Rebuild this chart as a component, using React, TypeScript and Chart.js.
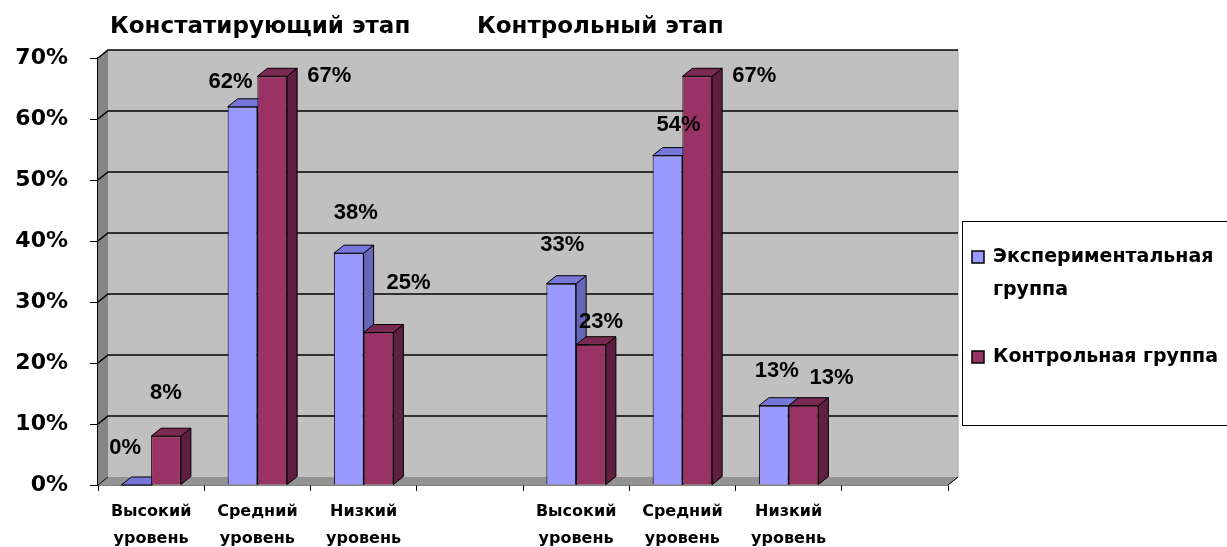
import React, { useEffect, useRef } from 'react';
import { Chart, registerables } from 'chart.js';

Chart.register(...registerables);

// ---------- data ----------
const categories: (string | string[])[] = [
  ['Высокий', 'уровень'],
  ['Средний', 'уровень'],
  ['Низкий', 'уровень'],
  '',
  ['Высокий', 'уровень'],
  ['Средний', 'уровень'],
  ['Низкий', 'уровень'],
  '',
];
const seriesNames = ['Экспериментальная группа', 'Контрольная группа'];
const experimental: (number | null)[] = [0, 62, 38, null, 33, 54, 13, null];
const control: (number | null)[] = [8, 67, 25, null, 23, 67, 13, null];
const yMin = 0;
const yMax = 70;
const yStep = 10;
const stageTitles = ['Констатирующий этап', 'Контрольный этап'];

// ---------- styles ----------
const FONT = "'DejaVu Sans', 'Open Sans', sans-serif";
const LABEL_FONT = "'Liberation Sans', Arial, sans-serif";
const DX = 10;
const DY = -8;
const seriesStyle = [
  { front: '#9999FF', top: '#7777D9', side: '#6666BB' },
  { front: '#993366', top: '#7A2952', side: '#5E1F40' },
];
// label offsets (px) relative to bar top centre
const labelOffsets = [
  [[-11, -37], [-12, -25], [7, -40], [0, 0], [1, -39], [11, -31], [3, -35], [0, 0]],
  [[0, -43], [57, 0], [30, -50], [0, 0], [10, -23], [57, 0], [28, -28], [0, 0]],
];

const wallsPlugin = {
  id: 'walls3d',
  beforeDatasetsDraw(chart: any) {
    const { ctx, chartArea } = chart;
    const { left: L, right: R, top: T, bottom: B } = chartArea;
    const ys = chart.scales.y;
    ctx.save();
    // back wall
    ctx.fillStyle = '#C0C0C0';
    ctx.fillRect(L + DX, T + DY, R - L, B - T);
    // left wall
    ctx.fillStyle = '#858585';
    ctx.beginPath();
    ctx.moveTo(L, T);
    ctx.lineTo(L + DX, T + DY);
    ctx.lineTo(L + DX, B + DY);
    ctx.lineTo(L, B);
    ctx.closePath();
    ctx.fill();
    // floor
    ctx.fillStyle = '#939393';
    ctx.beginPath();
    ctx.moveTo(L, B);
    ctx.lineTo(L + DX, B + DY);
    ctx.lineTo(R + DX, B + DY);
    ctx.lineTo(R, B);
    ctx.closePath();
    ctx.fill();
    // right wall edge
    ctx.strokeStyle = '#A8A8A8';
    ctx.lineWidth = 1;
    ctx.beginPath();
    ctx.moveTo(R + DX, T + DY);
    ctx.lineTo(R + DX, B + DY);
    ctx.stroke();
    // grid lines
    ctx.strokeStyle = '#000';
    ctx.lineWidth = 1.6;
    for (let v = yMin + yStep; v <= yMax; v += yStep) {
      const y = ys.getPixelForValue(v);
      ctx.beginPath();
      ctx.moveTo(L, y);
      ctx.lineTo(L + DX, y + DY);
      ctx.lineTo(R + DX, y + DY);
      ctx.stroke();
    }
    // floor diagonals
    ctx.lineWidth = 1;
    ctx.beginPath();
    ctx.moveTo(L, B);
    ctx.lineTo(L + DX, B + DY);
    ctx.moveTo(R, B);
    ctx.lineTo(R + DX, B + DY);
    ctx.stroke();

    // 3D tops and sides of bars (drawn behind fronts)
    chart.data.datasets.forEach((ds: any, di: number) => {
      const meta = chart.getDatasetMeta(di);
      const st = seriesStyle[di];
      meta.data.forEach((el: any, i: number) => {
        if (ds.data[i] === null || ds.data[i] === undefined) return;
        const w = el.width;
        const l = el.x - w / 2;
        const r = el.x + w / 2;
        const y = el.y;
        const b = el.base;
        ctx.lineWidth = 1;
        ctx.strokeStyle = '#000';
        // side
        ctx.fillStyle = st.side;
        ctx.beginPath();
        ctx.moveTo(r, y);
        ctx.lineTo(r + DX, y + DY);
        ctx.lineTo(r + DX, b + DY);
        ctx.lineTo(r, b);
        ctx.closePath();
        ctx.fill();
        ctx.stroke();
        // top
        ctx.fillStyle = st.top;
        ctx.beginPath();
        ctx.moveTo(l, y);
        ctx.lineTo(l + DX, y + DY);
        ctx.lineTo(r + DX, y + DY);
        ctx.lineTo(r, y);
        ctx.closePath();
        ctx.fill();
        ctx.stroke();
      });
    });
    ctx.restore();
  },
};

const overlayPlugin = {
  id: 'overlay',
  afterDatasetsDraw(chart: any) {
    const { ctx } = chart;
    ctx.save();
    ctx.fillStyle = '#000';
    ctx.font = `bold 22px ${LABEL_FONT}`;
    ctx.textAlign = 'center';
    ctx.textBaseline = 'middle';
    chart.data.datasets.forEach((ds: any, di: number) => {
      const meta = chart.getDatasetMeta(di);
      meta.data.forEach((el: any, i: number) => {
        const v = ds.data[i];
        if (v === null || v === undefined) return;
        const [ox, oy] = labelOffsets[di][i];
        ctx.fillText(`${v}%`, el.x + ox, el.y + oy);
      });
    });
    ctx.restore();
  },
  afterDraw(chart: any) {
    const { ctx, chartArea } = chart;
    ctx.save();
    // stage titles
    ctx.fillStyle = '#000';
    ctx.font = `bold 23px ${FONT}`;
    ctx.textAlign = 'left';
    ctx.textBaseline = 'middle';
    ctx.fillText(stageTitles[0], chartArea.left + 12, 27);
    ctx.fillText(stageTitles[1], chartArea.left + 379, 27);

    // legend
    const lx = chartArea.right + 14;
    const ly = 221;
    const lh = 204;
    ctx.fillStyle = '#fff';
    ctx.fillRect(lx, ly, 400, lh);
    ctx.strokeStyle = '#000';
    ctx.lineWidth = 1;
    ctx.strokeRect(lx + 0.5, ly + 0.5, 400, lh);
    ctx.font = `bold 19px ${FONT}`;
    const items = [
      { lines: ['Экспериментальная', 'группа'], y: ly + 36 },
      { lines: [seriesNames[1]], y: ly + 136 },
    ];
    items.forEach((it, k) => {
      ctx.fillStyle = seriesStyle[k].front;
      ctx.fillRect(lx + 10, it.y - 6, 12, 12);
      ctx.strokeStyle = '#000';
      ctx.lineWidth = 1.5;
      ctx.strokeRect(lx + 10, it.y - 6, 12, 12);
      ctx.fillStyle = '#000';
      it.lines.forEach((t, j) => ctx.fillText(t, lx + 31, it.y + j * 33));
    });
    ctx.restore();
  },
};

export default function App() {
  const ref = useRef<HTMLCanvasElement>(null);
  useEffect(() => {
    if (!ref.current) return;
    const chart = new Chart(ref.current, {
      type: 'bar',
      data: {
        labels: categories,
        datasets: [
          {
            label: seriesNames[0],
            data: experimental,
            backgroundColor: seriesStyle[0].front,
            borderColor: '#000',
            borderWidth: 1,
            categoryPercentage: 0.56,
            barPercentage: 1,
          },
          {
            label: seriesNames[1],
            data: control,
            backgroundColor: seriesStyle[1].front,
            borderColor: '#000',
            borderWidth: 1,
            categoryPercentage: 0.56,
            barPercentage: 1,
          },
        ],
      },
      options: {
        responsive: false,
        animation: false,
        layout: { padding: { top: 58, right: 279, left: 0, bottom: 0 } },
        plugins: {
          legend: { display: false },
          tooltip: { enabled: false },
          title: { display: false },
        },
        scales: {
          x: {
            grid: {
              offset: true,
              drawOnChartArea: false,
              drawTicks: true,
              tickLength: 6,
              color: '#000',
            },
            border: { color: '#000', width: 1.5 },
            ticks: {
              autoSkip: false,
              maxRotation: 0,
              minRotation: 0,
              padding: 8,
              color: '#000',
              font: { family: FONT, weight: 'bold', size: 16, lineHeight: 1.65 },
            },
            afterFit: (s: any) => {
              s.height = 62;
            },
          },
          y: {
            min: yMin,
            max: yMax,
            grid: {
              drawOnChartArea: false,
              drawTicks: true,
              tickLength: 8,
              color: '#000',
            },
            border: { color: '#000', width: 1.5 },
            ticks: {
              stepSize: yStep,
              padding: 22,
              color: '#000',
              font: { family: FONT, weight: 'bold', size: 22 },
              callback: (v: any) => `${v}%`,
            },
            afterFit: (s: any) => {
              s.width = 98;
            },
          },
        },
      },
      plugins: [wallsPlugin, overlayPlugin],
    });
    return () => chart.destroy();
  }, []);
  return (
    <div style={{ position: 'fixed', left: 0, top: 0, width: 1227, height: 547, background: '#fff' }}>
      <canvas ref={ref} width={1227} height={547} />
    </div>
  );
}
